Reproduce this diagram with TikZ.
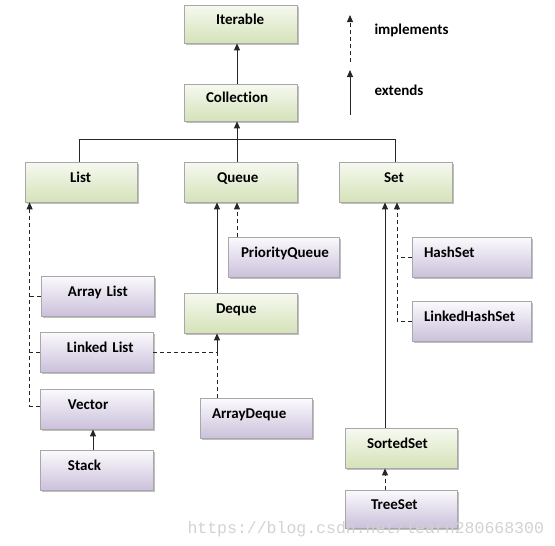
\documentclass[tikz,border=0pt]{standalone}
\usepackage{fontspec}
\setmainfont{Carlito}[Ligatures=NoCommon]
\newfontfamily\wmfont{Liberation Mono}
\usepackage{tikz}
\usetikzlibrary{arrows.meta,shadows}
\definecolor{gtop}{HTML}{F6F9F0}
\definecolor{gbot}{HTML}{D5E2BA}
\definecolor{ptop}{HTML}{FBFAFD}
\definecolor{pbot}{HTML}{CBC0DB}
\definecolor{boxedge}{HTML}{A8A8A8}
\definecolor{wmark}{HTML}{D2D2D2}

\begin{document}
\begin{tikzpicture}[x=1pt,y=-1pt,>={Triangle[length=7pt,width=6pt]},
  box/.style={draw=boxedge,line width=0.8pt,minimum height=40pt,inner ysep=0pt,
    text height=9.5pt,text depth=9.5pt,font=\fontsize{15}{17}\selectfont\bfseries,
    general shadow={fill=black!25,shadow xshift=1.5pt,shadow yshift=-1.5pt}},
  gbox/.style={box,top color=gtop,bottom color=gbot},
  pbox/.style={box,top color=ptop,bottom color=pbot},
  pad/.style 2 args={inner xsep=0pt,text width=#1pt,align=left,
    execute at begin node={\hspace*{#2pt}}},
  link/.style={line width=0.9pt,draw=black!85},
  ext/.style={link,->},
  dline/.style={link,dash pattern=on 4pt off 3pt},
  impl/.style={dline,->}]
\useasboundingbox (0,0) rectangle (555,546);

\node[gbox,pad={113}{32},minimum height=38pt] (iterable) at (240.5,24) {Iterable};
\node[gbox,pad={113}{22},minimum height=37pt] (collection) at (240.5,102.5) {Collection};
\node[gbox,pad={112}{45}] (list) at (81,182) {List};
\node[gbox,pad={113}{33}] (queue) at (240.5,182) {Queue};
\node[gbox,pad={113}{45}] (set) at (395.5,182) {Set};
\node[pbox,pad={111}{13}] (pqueue) at (283.5,257) {PriorityQueue};
\node[pbox,pad={119}{12}] (hashset) at (471.5,257.5) {HashSet};
\node[pbox,pad={119}{12}] (lhashset) at (471.5,321.5) {LinkedHashSet};
\node[pbox,pad={113}{27}] (arraylist) at (97.5,296) {Array List};
\node[pbox,pad={113}{27}] (linkedlist) at (96.5,352) {Linked List};
\node[pbox,pad={113}{28}] (vector) at (96.5,409) {Vector};
\node[pbox,pad={113}{28}] (stack) at (96.5,470.5) {Stack};
\node[gbox,pad={113}{32}] (deque) at (240.5,313) {Deque};
\node[pbox,pad={112}{12}] (arraydeque) at (256,418.5) {ArrayDeque};
\node[gbox,pad={112}{22}] (sortedset) at (401,448) {SortedSet};
\node[pbox,pad={112}{26},minimum height=38pt] (treeset) at (401,509) {TreeSet};

\coordinate (qx) at ([xshift=-3.5pt]queue.south);
\coordinate (dq) at ([xshift=-23.5pt]deque.south);
\coordinate (ltrunk) at ([xshift=5pt]list.south west);
\coordinate (strunk) at ([xshift=1.5pt]set.south);
\coordinate (sx) at ([xshift=-10.5pt]set.south);

\draw[ext] ([xshift=-3.5pt]collection.north) -- ([xshift=-3.5pt]iterable.south);
\draw[link] ([xshift=-2pt]list.north) -- ++(0,-22) -| (set.north);
\draw[ext] ([xshift=-3.5pt]queue.north) -- ([xshift=-3.5pt]collection.south);

\draw[impl] ([yshift=3pt]vector.west) -| (ltrunk);
\draw[dline] (arraylist.west) -- (arraylist.west -| ltrunk);
\draw[dline] (linkedlist.west) -- (linkedlist.west -| ltrunk);
\draw[ext] ([xshift=-3.5pt]stack.north) -- ([xshift=-3.5pt]vector.south);

\draw[impl] (pqueue.north -| qx) -- (qx);
\draw[ext] (deque.north -| dq) -- (queue.south -| dq);
\draw[impl] (arraydeque.north -| dq) -- (dq);
\draw[dline] (linkedlist.east) -| (dq);

\draw[impl] (lhashset.west) -| (strunk);
\draw[dline] (hashset.west) -- (hashset.west -| strunk);
\draw[ext] (sortedset.north -| sx) -- (set.south -| sx);
\draw[impl] (treeset.north -| sx) -- (sortedset.south -| sx);

\coordinate (imp0) at (350,62);
\coordinate (imp1) at (350,15);
\coordinate (ext0) at (350,115);
\coordinate (ext1) at (350,70);
\draw[impl] (imp0) -- (imp1);
\draw[ext] (ext0) -- (ext1);
\node[anchor=west,font=\fontsize{15}{17}\selectfont\bfseries] (impltext) at (371,30) {implements};
\node[anchor=west,font=\fontsize{15}{17}\selectfont\bfseries] (exttext) at (371,90) {extends};

\node[anchor=base west,text=wmark,font=\wmfont\fontsize{16.5}{18}\selectfont] (wm) at (184,533) {https://blog.csdn.net/learn280668300};
\end{tikzpicture}
\end{document}
